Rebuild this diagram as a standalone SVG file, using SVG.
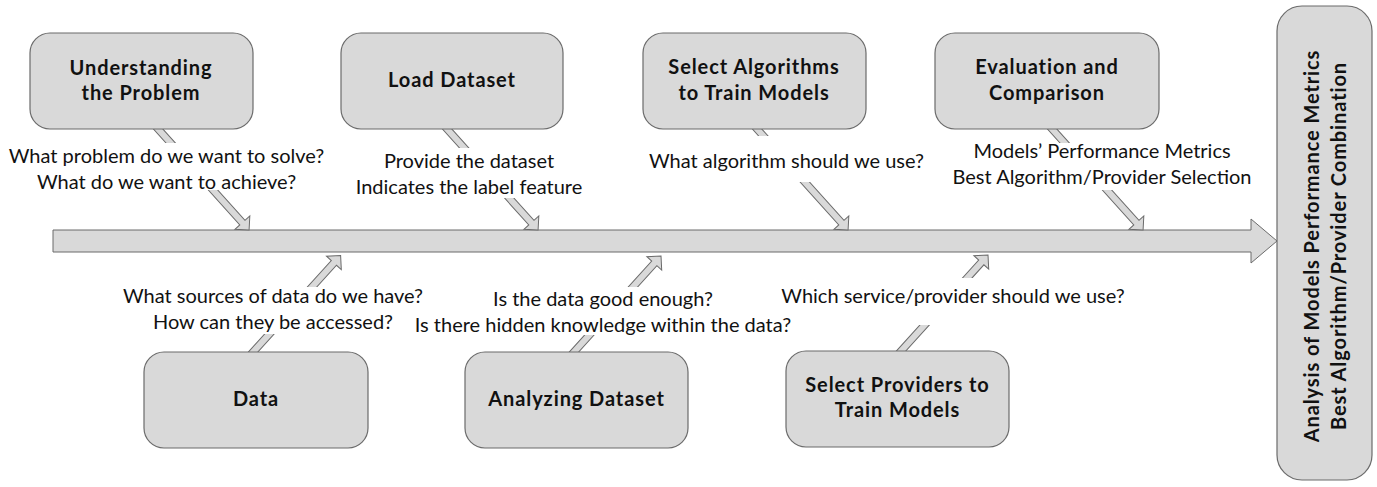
<svg xmlns="http://www.w3.org/2000/svg" width="1377" height="487" viewBox="0 0 1377 487">
<style>
.box{fill:#d9d9d9;stroke:#6b6b6b;stroke-width:1.2}
.arr{fill:#d9d9d9;stroke:#6b6b6b;stroke-width:1}
.bg{fill:#ffffff}
.t{font-family:Lato,"Liberation Sans",sans-serif;font-size:20px;fill:#111;text-anchor:middle}
.b{font-family:Lato,"Liberation Sans",sans-serif;font-size:20px;font-weight:bold;letter-spacing:0.9px;fill:#111;text-anchor:middle}
</style>
<rect width="1377" height="487" fill="#ffffff"/>
<g id="connectors">
  <path id="spine" class="arr" d="M53,230 H1251 V219 L1277,241 L1251,263 V252 H53 Z"/>
  <path class="arr" transform="translate(154.7,125.3) rotate(47.98)" d="M0,-3.5 H131 V-10 L141,0 L131,10 V3.5 H0 Z"/>
  <path class="arr" transform="translate(443.7,125.3) rotate(47.98)" d="M0,-3.5 H131 V-10 L141,0 L131,10 V3.5 H0 Z"/>
  <path class="arr" transform="translate(753.7,125.3) rotate(47.98)" d="M0,-3.5 H131 V-10 L141,0 L131,10 V3.5 H0 Z"/>
  <path class="arr" transform="translate(1048.7,125.3) rotate(47.98)" d="M0,-3.5 H131 V-10 L141,0 L131,10 V3.5 H0 Z"/>
  <path class="arr" transform="translate(249.7,355.7) rotate(-47.78)" d="M0,-3.5 H125.3 V-10 L135.3,0 L125.3,10 V3.5 H0 Z"/>
  <path class="arr" transform="translate(570.6,355.7) rotate(-47.8)" d="M0,-3.5 H124.6 V-10 L134.6,0 L124.6,10 V3.5 H0 Z"/>
  <path class="arr" transform="translate(897.7,354.7) rotate(-47.82)" d="M0,-3.5 H124.5 V-10 L134.5,0 L124.5,10 V3.5 H0 Z"/>
</g>
<g id="labels">
  <rect class="bg" x="6" y="143" width="322" height="47"/>
  <rect class="bg" x="352" y="148" width="234" height="50"/>
  <rect class="bg" x="640" y="136" width="294" height="46"/>
  <rect class="bg" x="950" y="143" width="304" height="47"/>
  <rect class="bg" x="116" y="287" width="314" height="47"/>
  <rect class="bg" x="412" y="287" width="382" height="48"/>
  <rect class="bg" x="776" y="278" width="354" height="47"/>
  <text class="t" x="166.5" y="163">What problem do we want to solve?</text>
  <text class="t" x="166.5" y="189">What do we want to achieve?</text>
  <text class="t" x="469" y="168">Provide the dataset</text>
  <text class="t" x="469" y="194">Indicates the label feature</text>
  <text class="t" x="786.5" y="168">What algorithm should we use?</text>
  <text class="t" x="1102" y="158">Models’ Performance Metrics</text>
  <text class="t" x="1102" y="184">Best Algorithm/Provider Selection</text>
  <text class="t" x="273" y="303">What sources of data do we have?</text>
  <text class="t" x="273" y="329">How can they be accessed?</text>
  <text class="t" x="603" y="306">Is the data good enough?</text>
  <text class="t" x="603" y="332">Is there hidden knowledge within the data?</text>
  <text class="t" x="953" y="303">Which service/provider should we use?</text>
</g>
<g id="n-understanding">
  <rect class="box" x="30" y="33" width="223" height="96" rx="20"/>
  <text class="b" x="141" y="75">Understanding</text>
  <text class="b" x="141" y="100">the Problem</text>
</g>
<g id="n-load">
  <rect class="box" x="341" y="33" width="222" height="96" rx="20"/>
  <text class="b" x="452" y="87">Load Dataset</text>
</g>
<g id="n-algorithms">
  <rect class="box" x="643" y="33" width="223" height="96" rx="20"/>
  <text class="b" x="754" y="74">Select Algorithms</text>
  <text class="b" x="754" y="100">to Train Models</text>
</g>
<g id="n-evaluation">
  <rect class="box" x="935" y="33" width="224" height="96" rx="20"/>
  <text class="b" x="1047" y="74">Evaluation and</text>
  <text class="b" x="1047" y="100">Comparison</text>
</g>
<g id="n-data">
  <rect class="box" x="144" y="352" width="224" height="96" rx="20"/>
  <text class="b" x="256" y="406">Data</text>
</g>
<g id="n-analyzing">
  <rect class="box" x="465" y="352" width="223" height="96" rx="20"/>
  <text class="b" x="576.5" y="406">Analyzing Dataset</text>
</g>
<g id="n-providers">
  <rect class="box" x="786" y="351" width="223" height="96" rx="20"/>
  <text class="b" x="897.5" y="392">Select Providers to</text>
  <text class="b" x="897.5" y="417">Train Models</text>
</g>
<g id="n-result">
  <rect class="box" x="1277" y="6" width="95" height="474" rx="25"/>
  <text class="b" transform="translate(1319,246) rotate(-90)">Analysis of Models Performance Metrics</text>
  <text class="b" transform="translate(1345.5,246) rotate(-90)">Best Algorithm/Provider Combination</text>
</g>
</svg>
